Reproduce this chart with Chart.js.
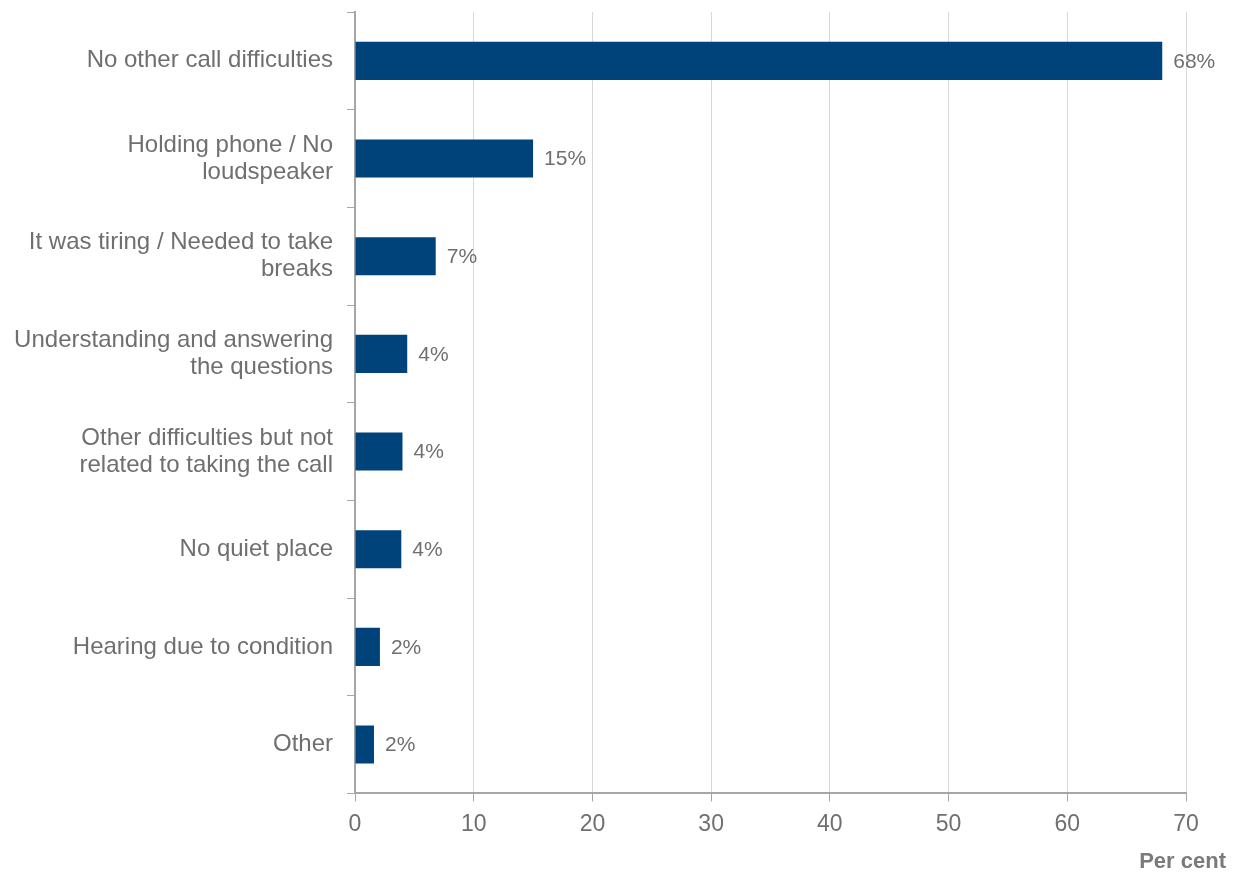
<!DOCTYPE html>
<html>
<head>
<meta charset="utf-8">
<script src="https://cdn.jsdelivr.net/npm/chart.js@4"></script>
<style>
  html, body { margin: 0; padding: 0; background: #fff; }
  #wrap { width: 1237px; height: 873px; position: relative; }
</style>
</head>
<body>
<div id="wrap"><canvas id="barras"></canvas></div>
<script>
// categorias e valores (em %)
const categorias = [
  "No other call difficulties",
  ["Holding phone / No", "loudspeaker"],
  ["It was tiring / Needed to take", "breaks"],
  ["Understanding and answering", "the questions"],
  ["Other difficulties but not", "related to taking the call"],
  "No quiet place",
  "Hearing due to condition",
  "Other"
];
const valores = [68, 15, 6.8, 4.4, 4.0, 3.9, 2.1, 1.6];
const ticksX = [0, 10, 20, 30, 40, 50, 60, 70];

const AZUL = "#00437a";
const CINZA_TEXTO = "#6f6f6f";
const CINZA_EIXO = "#a6a6a6";
const CINZA_GRADE = "#d9d9d9";
const FONTE = "'Liberation Sans', Arial, sans-serif";

// escreve "NN%" depois de cada barra e o titulo "Per cent"
const rotulos = {
  id: "rotulos",
  afterDatasetsDraw(chart) {
    const ctx = chart.ctx;
    const meta = chart.getDatasetMeta(0);
    ctx.save();
    ctx.font = "21px " + FONTE;
    ctx.fillStyle = CINZA_TEXTO;
    ctx.textAlign = "left";
    ctx.textBaseline = "middle";
    meta.data.forEach((bar, i) => {
      ctx.fillText(Math.round(valores[i]) + "%", bar.x + 11, bar.y + 1);
    });

    ctx.font = "bold 22px " + FONTE;
    ctx.fillStyle = "#7a7a7a";
    ctx.textAlign = "right";
    ctx.fillText("Per cent", chart.chartArea.right + 40, chart.chartArea.bottom + 69);
    ctx.restore();
  }
};

const CHART = document.querySelector("#barras");

let barras = new Chart(CHART, {
  type: "bar",
  data: {
    labels: categorias,
    datasets: [
      {
        label: "Per cent",
        data: valores,
        backgroundColor: AZUL,
        barPercentage: 0.39,
        categoryPercentage: 1,
      },
    ],
  },
  options: {
    indexAxis: "y",
    responsive: true,
    maintainAspectRatio: false,
    animation: false,
    layout: { padding: { top: 12, right: 51, left: 0, bottom: 26 } },
    plugins: {
      legend: { display: false },
      tooltip: { enabled: false },
    },
    scales: {
      x: {
        min: 0,
        max: 70,
        afterBuildTicks: (scale) => {
          scale.ticks = ticksX.map((v) => ({ value: v }));
        },
        grid: {
          color: CINZA_GRADE,
          tickColor: CINZA_EIXO,
          tickLength: 8,
          lineWidth: 1,
        },
        border: { color: CINZA_EIXO, width: 2 },
        ticks: {
          color: CINZA_TEXTO,
          padding: 9,
          font: { family: FONTE, size: 23 },
        },
      },
      y: {
        afterFit: (scale) => {
          scale.width = 355;
          scale.paddingTop = 0;
          scale.paddingBottom = 0;
        },
        grid: {
          offset: true,
          drawOnChartArea: false,
          color: CINZA_EIXO,
          tickLength: 8,
        },
        border: { color: CINZA_EIXO, width: 2 },
        ticks: {
          color: CINZA_TEXTO,
          padding: 14,
          font: { family: FONTE, size: 24, lineHeight: 1.13 },
        },
      },
    },
  },
  plugins: [rotulos],
});
</script>
</body>
</html>
